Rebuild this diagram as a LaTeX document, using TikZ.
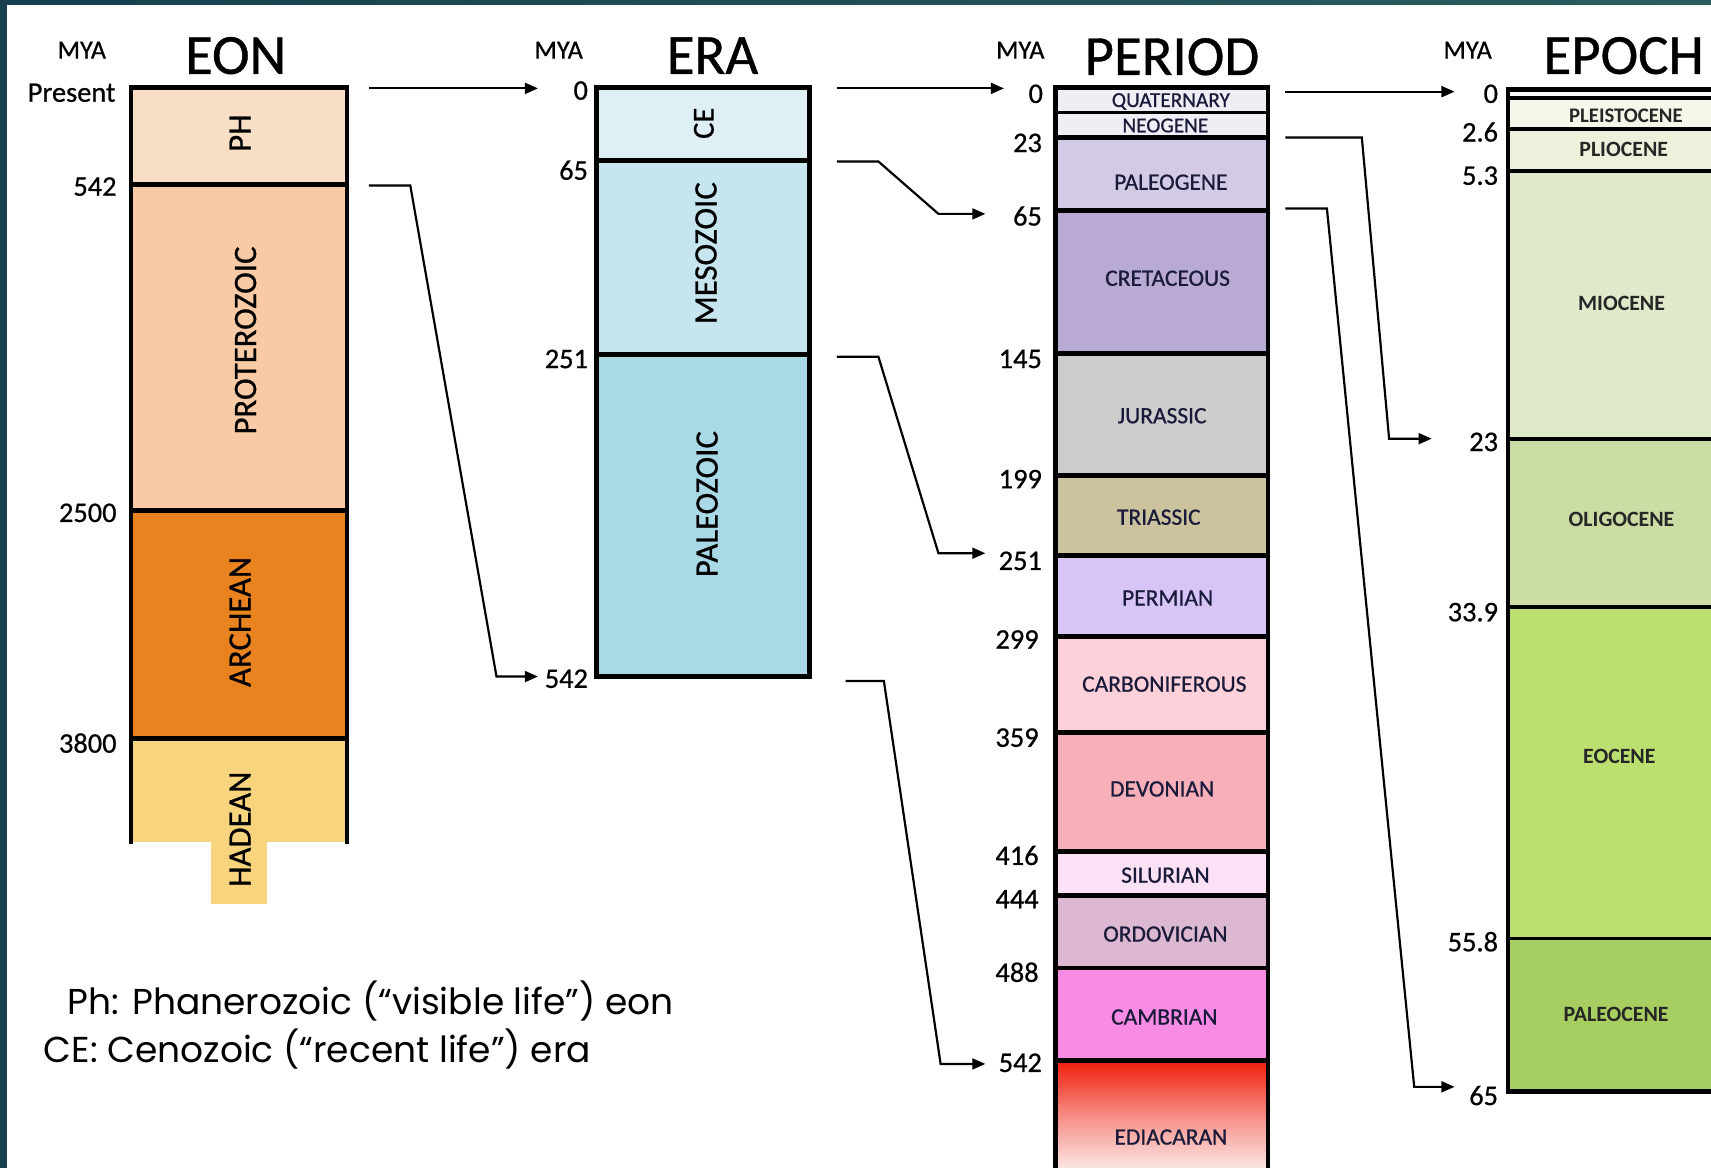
\documentclass[tikz,border=0pt]{standalone}
\usepackage{fontspec}
\setmainfont{Carlito}
\newfontfamily\medfont{Carlito}[FakeBold=0.7]
\newfontfamily\notefont{Poppins}
\usetikzlibrary{arrows.meta,fit}
\definecolor{frame}{HTML}{173F4E}
\definecolor{frameR}{HTML}{2A5E5E}
\definecolor{cPH}{HTML}{F9DEC6}
\definecolor{cPR}{HTML}{F8CBA6}
\definecolor{cAR}{HTML}{E9831F}
\definecolor{cHA}{HTML}{F8D47E}
\definecolor{cCE}{HTML}{DFF0F5}
\definecolor{cMS}{HTML}{C6E5EF}
\definecolor{cPZ}{HTML}{A9D9E6}
\definecolor{cQ}{HTML}{EFEEF5}
\definecolor{cPG}{HTML}{D3CBE5}
\definecolor{cK}{HTML}{B9AAD3}
\definecolor{cJ}{HTML}{CDCDCE}
\definecolor{cTr}{HTML}{CAC39E}
\definecolor{cP}{HTML}{D8C5F8}
\definecolor{cC}{HTML}{FCD1D9}
\definecolor{cD}{HTML}{F7AFBA}
\definecolor{cS}{HTML}{FBE1F6}
\definecolor{cO}{HTML}{DDB8D2}
\definecolor{cCm}{HTML}{F88BE3}
\definecolor{cEdT}{HTML}{F01E0A}
\definecolor{cEdB}{HTML}{FCEDED}
\definecolor{cHo}{HTML}{FCFCF8}
\definecolor{cPl}{HTML}{F5F7EA}
\definecolor{cPli}{HTML}{ECF1DC}
\definecolor{cMi}{HTML}{DFEACA}
\definecolor{cOl}{HTML}{CBDDA5}
\definecolor{cEo}{HTML}{BCE06F}
\definecolor{cPa}{HTML}{A6CE61}
\definecolor{ptxt}{HTML}{1A1A3A}
\tikzset{
  cellfill/.style={inner sep=0pt, outer sep=0pt, draw=none},
  boxline/.style={line width=4.4pt, draw=black},
  thinline/.style={line width=2.5pt, draw=black},
  epoline/.style={line width=3.5pt, draw=black},
  num/.style={font=\medfont\fontsize{26}{30}\selectfont, inner sep=0pt, anchor=east},
  mya/.style={font=\medfont\fontsize{24}{28}\selectfont, inner sep=0pt},
  hdr/.style={font=\medfont\fontsize{52}{60}\selectfont, inner sep=0pt},
  rotlab/.style={rotate=90, font=\medfont\fontsize{30}{34}\selectfont, inner sep=0pt},
  perlab/.style={font=\medfont\fontsize{21.5}{25}\selectfont, inner sep=0pt, text=ptxt},
  smallper/.style={font=\medfont\fontsize{19.5}{22}\selectfont, inner sep=0pt, text=ptxt},
  epolab/.style={font=\bfseries\fontsize{20}{24}\selectfont, inner sep=0pt, text=black!85},
  conn/.style={line width=2pt, -{Triangle[length=12pt,width=10pt]}},
  note/.style={font=\notefont\fontsize{33}{40}\selectfont, inner sep=0pt, anchor=west}
}
\begin{document}
\begin{tikzpicture}[x=1pt,y=-1pt]
\useasboundingbox (0,0) rectangle (1568,1070);
\clip (0,0) rectangle (1568,1070);
\fill[white] (0,0) rectangle (1568,1070);
% frame
\fill[left color=frame, right color=frameR] (0,0) rectangle (1568,4);
\fill[frame] (0,0) rectangle (6,1070);

% ---------- EON ----------
\node[mya] (myaEon) at (75,46) {MYA};
\node[hdr] (hEon) at (216,51) {EON};
\node[cellfill, fill=cPH, fit={(120,80) (318,169)}] (ph) {};
\node[cellfill, fill=cPR, fit={(120,169) (318,468)}] (pr) {};
\node[cellfill, fill=cAR, fit={(120,468) (318,677)}] (ar) {};
\node[cellfill, fill=cHA, fit={(120,677) (318,772)}] (ha) {};
\node[cellfill, fill=cHA, fit={(193,770) (245,828)}] (hatab) {};
\draw[boxline] (120,773) -- (120,80) -- (318,80) -- (318,773);
\draw[boxline] (120,169) -- (318,169);
\draw[boxline] (120,468) -- (318,468);
\draw[boxline] (120,677) -- (318,677);
\node[rotlab] (lPH) at (220,122) {PH};
\node[rotlab] (lPR) at (225,312) {PROTEROZOIC};
\node[rotlab] (lAR) at (220,570) {ARCHEAN};
\node[rotlab] (lHA) at (220,760) {HADEAN};
\node[num] (nPres) at (106,85) {Present};
\node[num] (n542a) at (107,171) {542};
\node[num] (n2500) at (107,470) {2500};
\node[num] (n3800) at (107,681) {3800};

% ---------- ERA ----------
\node[mya] (myaEra) at (512,46) {MYA};
\node[hdr] (hEra) at (653,51) {ERA};
\node[cellfill, fill=cCE, fit={(547,80) (742,147)}] (ce) {};
\node[cellfill, fill=cMS, fit={(547,147) (742,325)}] (ms) {};
\node[cellfill, fill=cPZ, fit={(547,325) (742,620)}] (pz) {};
\draw[boxline] (547,80) rectangle (742,620);
\draw[boxline] (547,147) -- (742,147);
\draw[boxline] (547,325) -- (742,325);
\node[rotlab, font=\medfont\fontsize{28}{32}\selectfont] (lCE) at (645,113) {CE};
\node[rotlab] (lMS) at (647,232) {MESOZOIC};
\node[rotlab] (lPZ) at (648,462) {PALEOZOIC};
\node[num] (n0b) at (539,83) {0};
\node[num] (n65b) at (539,156) {65};
\node[num] (n251b) at (539,329) {251};
\node[num] (n542b) at (539,622) {542};

% ---------- PERIOD ----------
\node[mya] (myaPer) at (935,46) {MYA};
\node[hdr] (hPer) at (1074,52) {PERIOD};
\node[cellfill, fill=cQ, fit={(967,80) (1162,103)}] (q) {};
\node[cellfill, fill=cQ, fit={(967,103) (1162,126)}] (ng) {};
\node[cellfill, fill=cPG, fit={(967,126) (1162,193)}] (pg) {};
\node[cellfill, fill=cK, fit={(967,193) (1162,324)}] (kk) {};
\node[cellfill, fill=cJ, fit={(967,324) (1162,436)}] (jj) {};
\node[cellfill, fill=cTr, fit={(967,436) (1162,509)}] (tr) {};
\node[cellfill, fill=cP, fit={(967,509) (1162,583)}] (pp) {};
\node[cellfill, fill=cC, fit={(967,583) (1162,671)}] (cc) {};
\node[cellfill, fill=cD, fit={(967,671) (1162,780)}] (dd) {};
\node[cellfill, fill=cS, fit={(967,780) (1162,821)}] (ss) {};
\node[cellfill, fill=cO, fit={(967,821) (1162,887)}] (oo) {};
\node[cellfill, fill=cCm, fit={(967,887) (1162,972)}] (cm) {};
\node[cellfill, top color=cEdT, bottom color=cEdB, middle color=cEdT!45!cEdB, fit={(967,972) (1162,1075)}] (ed) {};
\draw[boxline] (967,1090) -- (967,80) -- (1162,80) -- (1162,1090);
\draw[thinline] (967,103) -- (1162,103);
\foreach \yy in {126,193,324,436,509,583,671,780,821,887,972}
  \draw[boxline] (967,\yy) -- (1162,\yy);
\node[smallper] (lQ) at (1073,93) {QUATERNARY};
\node[smallper] (lNG) at (1068,115) {NEOGENE};
\node[perlab] (lPG) at (1073,167) {PALEOGENE};
\node[perlab] (lK) at (1070,255) {CRETACEOUS};
\node[perlab] (lJ) at (1065,381) {JURASSIC};
\node[perlab] (lTr) at (1062,474) {TRIASSIC};
\node[perlab] (lP) at (1070,548) {PERMIAN};
\node[perlab] (lC) at (1067,627) {CARBONIFEROUS};
\node[perlab] (lD) at (1065,723) {DEVONIAN};
\node[perlab] (lS) at (1068,802) {SILURIAN};
\node[perlab] (lO) at (1068,856) {ORDOVICIAN};
\node[perlab] (lCm) at (1067,932) {CAMBRIAN};
\node[perlab] (lEd) at (1073,1042) {EDIACARAN};
\node[num] (n0c) at (956,86) {0};
\node[num] (n23c) at (955,131) {23};
\node[num] (n65c) at (955,198) {65};
\node[num] (n145c) at (955,329) {145};
\node[num] (n199c) at (955,439) {199};
\node[num] (n251c) at (955,514) {251};
\node[num] (n299c) at (952,586) {299};
\node[num] (n359c) at (952,676) {359};
\node[num] (n416c) at (952,784) {416};
\node[num] (n444c) at (952,824) {444};
\node[num] (n488c) at (952,891) {488};
\node[num] (n542c) at (955,974) {542};

% ---------- EPOCH ----------
\node[mya] (myaEpo) at (1345,46) {MYA};
\node[hdr] (hEpo) at (1488,51) {EPOCH};
\node[cellfill, fill=cHo, fit={(1382,82) (1600,90)}] (ho) {};
\node[cellfill, fill=cPl, fit={(1382,90) (1600,118)}] (pl) {};
\node[cellfill, fill=cPli, fit={(1382,118) (1600,157)}] (pli) {};
\node[cellfill, fill=cMi, fit={(1382,157) (1600,402)}] (mi) {};
\node[cellfill, fill=cOl, fit={(1382,402) (1600,556)}] (ol) {};
\node[cellfill, fill=cEo, fit={(1382,556) (1600,860)}] (eo) {};
\node[cellfill, fill=cPa, fit={(1382,860) (1600,1000)}] (pa) {};
\draw[boxline] (1600,82) -- (1382,82) -- (1382,1000) -- (1600,1000);
\draw[epoline] (1382,90) -- (1600,90);
\foreach \yy in {118,157,402,556,860}
  \draw[epoline] (1382,\yy) -- (1600,\yy);
\node[epolab, font=\bfseries\fontsize{19}{22}\selectfont] (lPl) at (1490,106) {PLEISTOCENE};
\node[epolab] (lPli) at (1488,137) {PLIOCENE};
\node[epolab] (lMi) at (1486,278) {MIOCENE};
\node[epolab] (lOl) at (1486,476) {OLIGOCENE};
\node[epolab] (lEo) at (1484,693) {EOCENE};
\node[epolab] (lPa) at (1481,930) {PALEOCENE};
\node[num] (n0d) at (1373,86) {0};
\node[num] (n26d) at (1373,121) {2.6};
\node[num] (n53d) at (1373,161) {5.3};
\node[num] (n23d) at (1373,405) {23};
\node[num] (n339d) at (1373,561) {33.9};
\node[num] (n558d) at (1373,863) {55.8};
\node[num] (n65d) at (1373,1004) {65};

% ---------- connectors ----------
\coordinate (s1) at (338,81);   \coordinate (t1) at (493,81);
\coordinate (s2) at (338,170);  \coordinate (t2) at (493,620);
\coordinate (s3) at (767,81);   \coordinate (t3) at (920,81);
\coordinate (s4) at (767,148);  \coordinate (t4) at (903,196);
\coordinate (s5) at (767,327);  \coordinate (t5) at (903,507);
\coordinate (s6) at (775,624);  \coordinate (t6) at (903,975);
\coordinate (s7) at (1178,84);  \coordinate (t7) at (1333,84);
\coordinate (s8) at (1178,126); \coordinate (t8) at (1312,402);
\coordinate (s9) at (1178,191); \coordinate (t9) at (1333,996);
\draw[conn] (s1) -- (t1);
\draw[conn] (s2) -- (376,170) -- (455,620) -- (t2);
\draw[conn] (s3) -- (t3);
\draw[conn] (s4) -- (805,148) -- (860,196) -- (t4);
\draw[conn] (s5) -- (805,327) -- (860,507) -- (t5);
\draw[conn] (s6) -- (810,624) -- (862,975) -- (t6);
\draw[conn] (s7) -- (t7);
\draw[conn] (s8) -- (1248,126) -- (1273,402) -- (t8);
\draw[conn] (s9) -- (1216,191) -- (1296,996) -- (t9);

% ---------- notes ----------
\node[note] (note1) at (62,917) {Ph: Phanerozoic (“visible life”) eon};
\node[note] (note2) at (40,961) {CE: Cenozoic (“recent life”) era};
\end{tikzpicture}
\end{document}
